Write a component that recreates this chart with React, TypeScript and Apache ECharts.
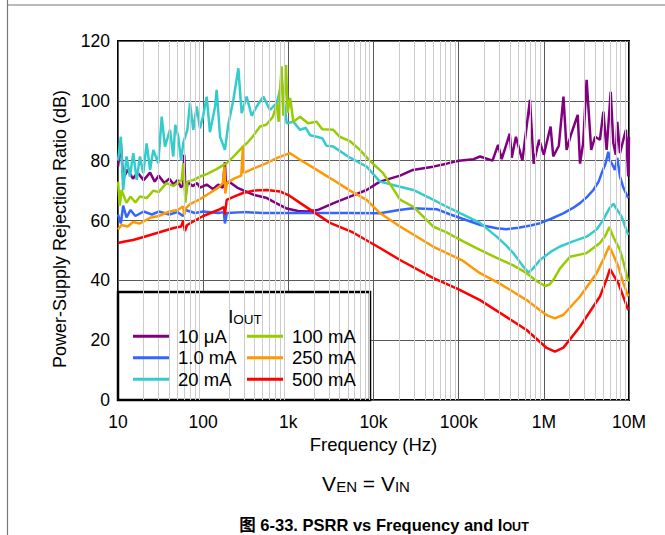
import React, { useEffect, useRef } from 'react';
import * as echarts from 'echarts';

const FONT = '"Liberation Sans", Arial, Helvetica, "Noto Sans CJK SC", sans-serif';

const SERIES_NAMES = ['10 μA', '1.0 mA', '20 mA', '100 mA', '250 mA', '500 mA'];
const SERIES_COLORS = ['#800080', '#3366FF', '#33CCCC', '#99CC00', '#FF9900', '#FF0000'];

const X_TICK_VALUES = [10, 100, 1000, 10000, 100000, 1000000, 10000000];
const X_TICK_LABELS = ['10', '100', '1k', '10k', '100k', '1M', '10M'];
const MINOR_MULTIPLIERS = [2, 3, 4, 5, 6, 7, 8, 9];

const FREQ_10UA = [10, 10.8, 11.5, 13, 15, 17, 20, 23.8, 27, 30, 35, 40, 45, 50, 55, 58, 60, 62, 66, 75, 85, 92, 110, 130, 150, 170, 180, 185, 200, 250, 300, 400, 560, 700, 960, 1300, 1650, 2200, 3400, 5300, 8300, 11900, 20500, 29000, 50000, 72000, 100000, 150000, 178000, 250000, 290000, 320000, 398000, 420000, 470000, 560000, 687000, 760000, 880000, 1000000, 1200000, 1290000, 1500000, 1700000, 1850000, 2100000, 2500000, 2660000, 2900000, 3180000, 3600000, 4000000, 4560000, 5000000, 5460000, 6100000, 6550000, 7000000, 7290000, 7840000, 8580000, 9200000, 9600000, 9800000, 10000000];
const PSRR_10UA = [78, 86, 74, 77, 74, 76, 73.5, 76, 73, 75, 72.5, 74, 72, 73.5, 71, 72, 82, 68, 73, 71.5, 72.5, 71, 72, 70.5, 72, 71, 79.5, 72, 73, 71, 70, 68.5, 67.5, 66, 64, 63.2, 63, 63.5, 65.8, 68, 70.2, 73, 75, 76.9, 78, 79, 80, 80.5, 81.4, 80, 85.3, 80.5, 89, 81, 88, 80, 100.3, 79, 87, 82, 91.4, 81.4, 85, 101.4, 83.6, 89, 95.3, 79, 86, 107, 83.6, 88, 87, 96.4, 83.6, 103, 85.8, 82, 93, 82.5, 87, 90.3, 80, 74.7, 88];

const FREQ_1MA = [10, 10.8, 11.5, 12.6, 14, 16, 20, 25, 30, 40, 50, 58, 62, 80, 100, 150, 175, 180, 190, 300, 500, 1000, 2000, 5000, 11900, 20000, 29000, 55000, 80000, 113000, 180000, 279000, 366000, 500000, 700000, 902000, 1200000, 1690000, 2200000, 2660000, 3200000, 3810000, 4400000, 4800000, 5300000, 5710000, 6000000, 6250000, 6840000, 7290000, 7840000, 8580000, 9380000, 9800000];
const PSRR_1MA = [62, 59, 65, 61, 63.5, 61.5, 63, 62, 63, 62, 62.8, 61.5, 63.5, 62.5, 63, 62.5, 62.8, 59, 62.5, 62.8, 62.5, 62.5, 62.5, 62.5, 62.4, 63.5, 64.1, 63.8, 62, 60.5, 58.5, 57.4, 57.1, 57.6, 58.3, 59.1, 60.5, 62.4, 64.2, 65.8, 67.8, 70.2, 73, 76, 79, 83, 80, 79.2, 76.9, 80.9, 74.7, 71, 68.6, 67.5];

const FREQ_20MA = [10, 10.8, 11.5, 12.6, 13.8, 15.1, 16.6, 18.1, 19.8, 21.7, 23.8, 26, 29.7, 32.6, 35.6, 40.8, 44.6, 47, 51, 55, 58.5, 65.2, 70, 76.6, 84, 91.8, 100, 110, 120, 138, 144, 158, 180, 197, 226, 259, 283, 324, 371, 425, 508, 609, 730, 836, 957, 1146, 1372, 1600, 1800, 2150, 2500, 2800, 3375, 5300, 8300, 11900, 20500, 29300, 50000, 72000, 113000, 178000, 279000, 366000, 438000, 560000, 658000, 750000, 902000, 1200000, 1550000, 2200000, 3180000, 4170000, 4990000, 5870000, 6550000, 7290000, 8200000, 9000000, 9800000];
const PSRR_20MA = [80, 88, 70.2, 81.4, 74.7, 82.5, 73.6, 81.4, 75.8, 85.8, 76.9, 83.6, 79.1, 94.7, 84.7, 90.3, 81.4, 92, 88, 80, 86, 90.3, 99.2, 90.3, 98.1, 90.8, 95, 101.4, 89.5, 98, 103.7, 88, 83.6, 92, 100.3, 110.9, 95.9, 101.4, 95, 98.1, 101.4, 97, 99.2, 105.9, 92.5, 93, 90.3, 91, 88.5, 88, 87.5, 85, 84.7, 81, 78, 73, 71.3, 70.2, 67, 64.6, 62, 59.2, 54.6, 51.5, 49.1, 45, 42.6, 44, 46.8, 49.5, 51.3, 53, 54.6, 57, 60.2, 64, 65.6, 63.5, 61.3, 58, 55.2];

const FREQ_100MA = [10, 10.5, 11, 12.6, 14, 16, 18.1, 21.7, 26, 30, 37, 45, 56, 58.5, 60, 62, 65, 76, 92, 110, 140, 189, 230, 293, 330, 380, 465, 550, 660, 730, 770, 800, 836, 870, 940, 980, 1050, 1146, 1372, 1700, 2150, 2500, 3375, 4000, 5300, 6930, 9000, 12900, 20500, 29300, 50000, 72000, 113000, 178000, 279000, 438000, 628000, 800000, 1030000, 1150000, 1290000, 1550000, 2030000, 3180000, 4560000, 5300000, 5870000, 6550000, 7840000, 8800000, 9800000];
const PSRR_100MA = [73, 65, 70.2, 65.9, 68, 66, 68, 67.5, 70, 69.5, 72.5, 71.5, 73.6, 79.2, 73, 66, 73, 73.5, 74.7, 75.5, 77, 79.2, 81.5, 84.7, 86, 88, 91.4, 92, 94.7, 99, 93, 104, 111.5, 95, 112, 96, 101, 93, 94.7, 92.5, 93, 90.5, 90.3, 88, 86.5, 83.6, 80, 75.9, 67, 64.6, 58, 56, 53, 50.2, 47.5, 45, 42.4, 40, 38.1, 38.5, 40.1, 44, 47.9, 49.1, 52.5, 55, 57.8, 54.5, 50.2, 45, 39.6];

const FREQ_250MA = [10, 11, 13, 15, 18, 23.8, 30, 40, 50, 58, 60, 62, 70, 90, 120, 150, 170, 178, 182, 190, 230, 280, 293, 300, 400, 557, 750, 1047, 1372, 2000, 3340, 5300, 8300, 11900, 20500, 50000, 113000, 178000, 300000, 628000, 900000, 1080000, 1350000, 1700000, 2660000, 4170000, 5000000, 5870000, 6550000, 7490000, 8600000, 9800000];
const PSRR_250MA = [57, 58.5, 58, 59.5, 59, 60.9, 61.5, 63, 63.5, 64.7, 61.9, 64, 65.5, 67, 69.2, 71, 72.5, 78, 69, 72.5, 74, 75, 84.7, 75.9, 77.5, 79.2, 81, 82.5, 80.3, 77.5, 73.6, 70, 66.9, 62.5, 58, 51.3, 46.5, 42.4, 39, 33.4, 30, 28.4, 27.3, 28.5, 34.6, 42.4, 47, 51.5, 48.5, 44.6, 39, 34.6];

const FREQ_500MA = [10, 12, 15, 20, 30, 45, 55, 58.5, 61, 65, 80, 100, 150, 175, 180, 189, 230, 293, 400, 557, 798, 1000, 1370, 3085, 5740, 11900, 20500, 49900, 100000, 178000, 628000, 1080000, 1350000, 1700000, 2650000, 4560000, 5400000, 5980000, 6500000, 7480000, 9800000];
const PSRR_500MA = [52.5, 53, 53.5, 54.5, 56, 57.5, 58, 60, 56.5, 58.5, 60, 61.5, 63.5, 64.5, 62, 66.9, 68, 69.2, 70, 70.2, 69.7, 68.5, 65.9, 59.2, 56, 50.8, 46.8, 40.8, 37, 33.4, 23.4, 17.4, 16.2, 17.5, 24.5, 34.6, 40, 43.8, 42, 39.1, 30.1];

const SERIES_FREQS = [FREQ_10UA, FREQ_1MA, FREQ_20MA, FREQ_100MA, FREQ_250MA, FREQ_500MA];
const SERIES_PSRR = [PSRR_10UA, PSRR_1MA, PSRR_20MA, PSRR_100MA, PSRR_250MA, PSRR_500MA];

function subRich(main: number, sub: number, bold: boolean) {
  const w = bold ? 'bold' : 'normal';
  return {
    a: { fontSize: main, fontWeight: w, fontFamily: FONT, fill: '#000', lineHeight: main + 5.5, verticalAlign: 'bottom' },
    s: { fontSize: sub, fontWeight: w, fontFamily: FONT, fill: '#000', lineHeight: sub, verticalAlign: 'bottom' },
  };
}

function buildOption() {
  const minorFreqs: number[] = [];
  X_TICK_VALUES.slice(0, -1).forEach((d) => MINOR_MULTIPLIERS.forEach((m) => minorFreqs.push(d * m)));

  const legendCommon = {
    orient: 'vertical',
    icon: 'rect',
    itemWidth: 36,
    itemHeight: 3,
    itemGap: 3,
    padding: 0,
    z: 6,
    selectedMode: false,
    textStyle: { fontSize: 18.5, fontFamily: FONT, color: '#000', padding: [0, 0, 0, 4] },
  };

  const dataSeries = SERIES_NAMES.map((name, i) => ({
    type: 'line',
    name,
    data: SERIES_FREQS[i].map((f, j) => [f, SERIES_PSRR[i][j]]),
    showSymbol: false,
    symbol: 'none',
    clip: true,
    lineStyle: { color: SERIES_COLORS[i], width: 2.5 },
    itemStyle: { color: SERIES_COLORS[i] },
    z: 2,
  }));

  return {
    animation: false,
    backgroundColor: '#fff',
    grid: {
      left: 118,
      top: 41,
      width: 511,
      height: 359,
      show: true,
      borderColor: '#000',
      borderWidth: 2,
      backgroundColor: 'transparent',
      outerBoundsMode: 'none',
    },
    xAxis: {
      type: 'log',
      logBase: 10,
      min: 10,
      max: 10000000,
      axisLine: { show: false },
      axisTick: { show: false },
      axisLabel: {
        fontSize: 17.5,
        fontFamily: FONT,
        color: '#000',
        margin: 13,
        formatter: (v: number) => {
          const i = X_TICK_VALUES.findIndex((t) => Math.abs(Math.log10(t) - Math.log10(v)) < 1e-6);
          return i >= 0 ? X_TICK_LABELS[i] : '';
        },
      },
      splitLine: { show: true, lineStyle: { color: '#5a5a5a', width: 1 } },
      name: 'Frequency (Hz)',
      nameLocation: 'middle',
      nameGap: 35,
      nameTextStyle: { fontSize: 18.5, fontFamily: FONT, color: '#000' },
    },
    yAxis: {
      type: 'value',
      min: 0,
      max: 120,
      interval: 20,
      axisLine: { show: false },
      axisTick: { show: false },
      axisLabel: { fontSize: 17.5, fontFamily: FONT, color: '#000', margin: 8 },
      splitLine: { show: true, lineStyle: { color: '#5a5a5a', width: 1 } },
    },
    legend: [
      { ...legendCommon, data: SERIES_NAMES.slice(0, 3), left: 133, top: 327 },
      { ...legendCommon, data: SERIES_NAMES.slice(3), left: 247, top: 327 },
    ],
    graphic: [
      { type: 'line', shape: { x1: 7.5, y1: 0, x2: 7.5, y2: 535 }, style: { stroke: '#777', lineWidth: 1.2 } },
      { type: 'line', shape: { x1: 7.5, y1: 5, x2: 665, y2: 5 }, style: { stroke: '#777', lineWidth: 1.2 } },
      {
        type: 'rect',
        z: 4,
        shape: { x: 118, y: 292, width: 252, height: 108 },
        style: { fill: '#fff', stroke: '#000', lineWidth: 2.5 },
      },
      {
        type: 'text',
        z: 6,
        x: 245,
        y: 314,
        style: { text: '{a|I}{s|OUT}', align: 'center', verticalAlign: 'middle', rich: subRich(18.5, 13.5, false) },
      },
      {
        type: 'text',
        x: 60,
        y: 229,
        rotation: Math.PI / 2,
        style: {
          text: 'Power-Supply Rejection Ratio (dB)',
          fontSize: 18,
          fontFamily: FONT,
          fill: '#000',
          align: 'center',
          verticalAlign: 'middle',
        },
      },
      {
        type: 'text',
        x: 366,
        y: 481,
        style: { text: '{a|V}{s|EN}{a| = V}{s|IN}', align: 'center', verticalAlign: 'middle', rich: subRich(21, 15, false) },
      },
      {
        type: 'text',
        x: 384,
        y: 522,
        style: {
          text: '{a|图 6-33. PSRR vs Frequency and I}{s|OUT}',
          align: 'center',
          verticalAlign: 'middle',
          rich: subRich(16.5, 12.5, true),
        },
      },
    ],
    series: [
      {
        type: 'line',
        name: 'minor-grid',
        data: [],
        silent: true,
        z: 1,
        markLine: {
          silent: true,
          symbol: ['none', 'none'],
          label: { show: false },
          emphasis: { disabled: true },
          animation: false,
          lineStyle: { color: '#cccccc', width: 1, type: 'solid' },
          data: minorFreqs.map((f) => ({ xAxis: f })),
        },
      },
      ...dataSeries,
    ],
  };
}

export default function App() {
  const ref = useRef<HTMLDivElement>(null);
  useEffect(() => {
    if (!ref.current) return;
    const chart = echarts.init(ref.current, null, { renderer: 'svg' });
    chart.setOption(buildOption() as any);
    return () => chart.dispose();
  }, []);
  return (
    <div
      ref={ref}
      style={{ position: 'fixed', left: 0, top: 0, width: 665, height: 535, background: '#fff' }}
    />
  );
}
